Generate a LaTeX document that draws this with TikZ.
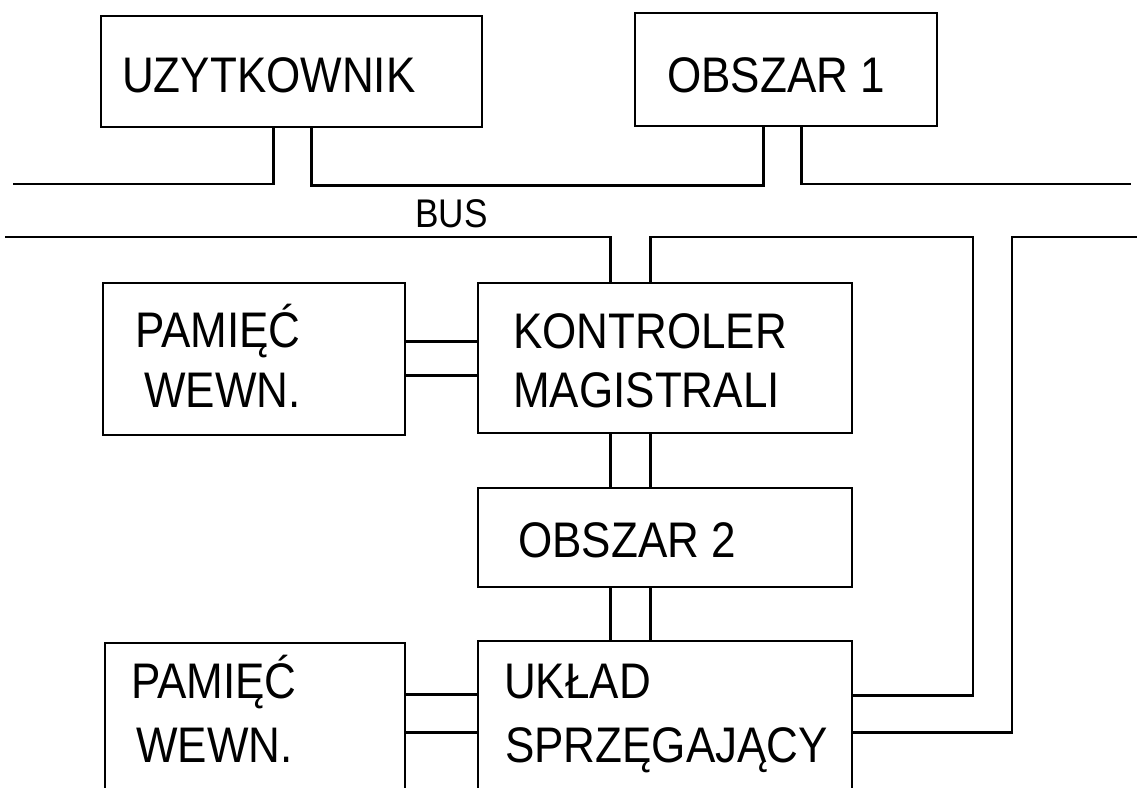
\documentclass[tikz,border=0pt]{standalone}
\usepackage{fontspec}
\setmainfont{Liberation Sans}[FakeStretch=0.88]
\usetikzlibrary{calc}
\tikzset{
  blk/.style={draw, rectangle, line width=2.8pt, inner sep=0pt},
  wire/.style={line width=2.8pt},
  lbl/.style={inner sep=0pt, anchor=base west, font=\fontsize{50}{60}\selectfont},
  buslbl/.style={inner sep=0pt, anchor=base west, font=\fontsize{40}{48}\selectfont}
}
\begin{document}
\begin{tikzpicture}[x=1pt,y=-1pt]
\useasboundingbox (0,0) rectangle (1137,787);
\clip (0,0) rectangle (1137,787);
% boxes
\node[blk, minimum width=381pt, minimum height=111pt] (uz)  at (291.5,71.5) {};
\node[blk, minimum width=302pt, minimum height=113pt] (ob1) at (786,69.5) {};
\node[blk, minimum width=302pt, minimum height=152pt] (pam1) at (254,359) {};
\node[blk, minimum width=374pt, minimum height=150pt] (kon) at (665,358) {};
\node[blk, minimum width=374pt, minimum height=99pt]  (ob2) at (665,537.5) {};
\node[blk, minimum width=374pt, minimum height=200pt] (ukl) at (665,741) {};
\node[blk, minimum width=300pt, minimum height=200pt] (pam2) at (255,743) {};
% labels
\node[lbl] (tuz) at (122,92) {UZYTKOWNIK};
\node[lbl] (tob1) at (667,92) {OBSZAR 1};
\node[buslbl] (tbus) at (415,227) {BUS};
\node[lbl] (tp1a) at (135,347) {PAMIĘĆ};
\node[lbl] (tp1b) at (144,407) {WEWN.};
\node[lbl] (tk1) at (513,348) {KONTROLER};
\node[lbl] (tk2) at (513,407) {MAGISTRALI};
\node[lbl] (tob2) at (518,557) {OBSZAR 2};
\node[lbl] (tu1) at (504,698) {UKŁAD};
\node[lbl] (tu2) at (505,762) {SPRZĘGAJĄCY};
\node[lbl] (tp2a) at (131,698) {PAMIĘĆ};
\node[lbl] (tp2b) at (136,762) {WEWN.};
% free ends of bus lines
\coordinate (bl1) at (13,184);
\coordinate (br1) at (1131,184);
\coordinate (bl2) at (5,237);
\coordinate (br2) at (1137,237);
\coordinate (c1) at (973,237);
\coordinate (c2) at (1012,237);
% top bus
\draw[wire] ($(uz.south west)+(174,0)$) |- (bl1);
\draw[wire] ($(uz.south west)+(212,0)$) -- ++(0,57) -| ($(ob1.south west)+(130,0)$);
\draw[wire] ($(ob1.south west)+(168,0)$) |- (br1);
% lower bus
\draw[wire] (bl2) -| ($(kon.north west)+(134,0)$);
\draw[wire] ($(kon.north west)+(174,0)$) |- (c1) |- ($(ukl.north east)+(0,56)$);
\draw[wire] (br2) -- (c2) |- ($(ukl.north east)+(0,93)$);
% memory links
\draw[wire] ($(kon.north west)+(0,60)$) coordinate (k1) -- (k1 -| pam1.east);
\draw[wire] ($(kon.north west)+(0,94)$) coordinate (k2) -- (k2 -| pam1.east);
\draw[wire] ($(ukl.north west)+(0,55)$) coordinate (u1) -- (u1 -| pam2.east);
\draw[wire] ($(ukl.north west)+(0,93)$) coordinate (u2) -- (u2 -| pam2.east);
% vertical links
\draw[wire] ($(kon.south west)+(134,0)$) -- ($(ob2.north west)+(134,0)$);
\draw[wire] ($(kon.south west)+(174,0)$) -- ($(ob2.north west)+(174,0)$);
\draw[wire] ($(ob2.south west)+(134,0)$) -- ($(ukl.north west)+(134,0)$);
\draw[wire] ($(ob2.south west)+(174,0)$) -- ($(ukl.north west)+(174,0)$);
\end{tikzpicture}
\end{document}
